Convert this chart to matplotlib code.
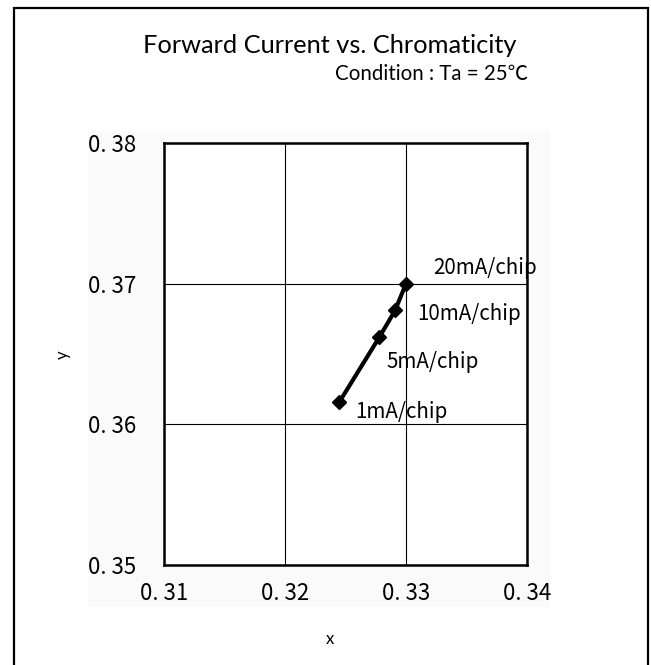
import numpy as np
import matplotlib.pyplot as plt
from matplotlib.patches import Rectangle

# chromaticity coordinates at each forward current
currents = ["1mA/chip", "5mA/chip", "10mA/chip", "20mA/chip"]
cx = [0.3245, 0.3278, 0.3291, 0.3300]
cy = [0.3616, 0.3662, 0.3681, 0.3700]

x_ticks = [0.31, 0.32, 0.33, 0.34]
y_ticks = [0.35, 0.36, 0.37, 0.38]
x_ticklabels = ["0. 31", "0. 32", "0. 33", "0. 34"]
y_ticklabels = ["0. 35", "0. 36", "0. 37", "0. 38"]

# label offsets in points (dx, dy) from each marker
label_offsets = [(11.5, -7.5), (5, -18), (16, -2.5), (19.5, 11.5)]

jp_font = ["Noto Sans CJK JP", "DejaVu Sans"]
title_font = ["Lato", "Noto Sans CJK JP", "DejaVu Sans"]

fig = plt.figure(figsize=(6.51, 6.65), dpi=100)

# outer frame, open at the bottom
fig.patches.append(Rectangle((14 / 651, -0.05), 634 / 651, 1.05 - 8 / 665,
                             transform=fig.transFigure, fill=False,
                             edgecolor="black", linewidth=1.6, zorder=-2))
# faint chart-area background
fig.patches.append(Rectangle((88 / 651, 1 - 607 / 665), 462 / 651, 476 / 665,
                             transform=fig.transFigure, facecolor="#fafafa",
                             edgecolor="none", zorder=-1))

ax = fig.add_axes([164 / 651, 100 / 665, 363 / 651, 422 / 665])
ax.set_facecolor("white")
ax.set_xlim(0.31, 0.34)
ax.set_ylim(0.35, 0.38)
ax.set_xticks(x_ticks)
ax.set_yticks(y_ticks)
ax.set_xticklabels(x_ticklabels, family=jp_font, fontsize=16)
ax.set_yticklabels(y_ticklabels, family=jp_font, fontsize=16)
ax.tick_params(axis="x", length=0, pad=12)
ax.tick_params(axis="y", length=0, pad=20)
ax.grid(True, color="black", linewidth=0.8)
for s in ax.spines.values():
    s.set_linewidth(1.8)

ax.plot(cx, cy, color="black", linewidth=3, marker="D", markersize=7.5)

for lbl, px, py, off in zip(currents, cx, cy, label_offsets):
    ax.annotate(lbl, (px, py), xytext=off, textcoords="offset points",
                ha="left", va="center", family=jp_font, fontsize=14.8)

fig.text(330 / 651, 1 - 53 / 665, "Forward Current vs. Chromaticity",
         ha="center", va="baseline", family=title_font, fontsize=18.3)
fig.text(528 / 651, 1 - 80 / 665, "Condition : Ta = 25℃",
         ha="right", va="baseline", family=title_font, fontsize=14.8)
fig.text(330 / 651, 1 - 639 / 665, "x", ha="center", va="center",
         family=title_font, fontsize=12)
fig.text(63 / 651, 1 - 355 / 665, "y", ha="center", va="center",
         rotation=90, family=title_font, fontsize=12)

fig.savefig("out.png", dpi=100)
